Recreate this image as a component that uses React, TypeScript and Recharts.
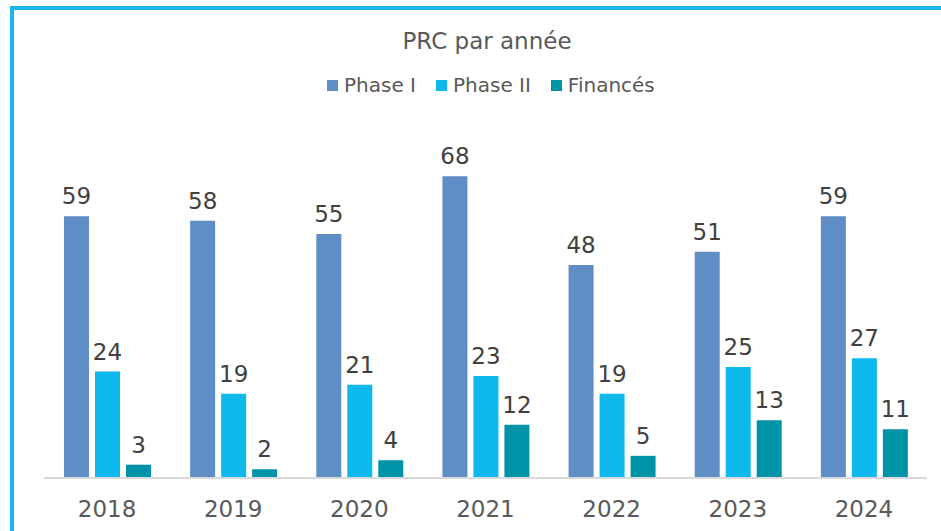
import React from "react";
import { Bar, BarChart, LabelList, XAxis, YAxis } from "recharts";

const years = ["2018", "2019", "2020", "2021", "2022", "2023", "2024"];
const phase1 = [59, 58, 55, 68, 48, 51, 59];
const phase2 = [24, 19, 21, 23, 19, 25, 27];
const finances = [3, 2, 4, 12, 5, 13, 11];

const series = [
  { key: "phase1", name: "Phase I", color: "#5F8DC6" },
  { key: "phase2", name: "Phase II", color: "#0CB8EC" },
  { key: "finances", name: "Financés", color: "#0093A7" },
];

const data = years.map((year, i) => ({
  year,
  phase1: phase1[i],
  phase2: phase2[i],
  finances: finances[i],
}));

const font = "'DejaVu Sans', Verdana, sans-serif";

const App: React.FC = () => {
  return (
    <div
      style={{
        position: "absolute",
        left: 0,
        top: 0,
        width: 941,
        height: 531,
        overflow: "hidden",
        background: "#fff",
        fontFamily: font,
      }}
    >
      {/* frame around the chart, right and bottom edges run off the picture */}
      <div
        style={{
          position: "absolute",
          left: 10,
          top: 6,
          width: 960,
          height: 560,
          border: "4px solid #1CB5EC",
          boxSizing: "border-box",
        }}
      />
      <div
        style={{
          position: "absolute",
          left: 0,
          width: 974,
          top: 27,
          textAlign: "center",
          fontSize: 23,
          color: "#595959",
          lineHeight: "28px",
        }}
      >
        PRC par année
      </div>
      <div
        style={{
          position: "absolute",
          left: 327,
          top: 73,
          display: "flex",
          alignItems: "center",
          fontSize: 20,
          color: "#595959",
          lineHeight: "24px",
        }}
      >
        {series.map((s) => (
          <span key={s.key} style={{ display: "flex", alignItems: "center", marginRight: 20 }}>
            <span style={{ width: 11, height: 11, background: s.color, marginRight: 6 }} />
            {s.name}
          </span>
        ))}
      </div>
      <BarChart
        width={941}
        height={531}
        data={data}
        margin={{ top: 123, right: 14, left: 44, bottom: 0 }}
        barSize={25}
        barGap={6}
        style={{ position: "absolute", left: 0, top: 0 }}
      >
        <XAxis
          dataKey="year"
          height={53}
          tickLine={false}
          axisLine={{ stroke: "#D9D9D9", strokeWidth: 2 }}
          tickMargin={17}
          tick={{ fontSize: 23, fill: "#595959", fontFamily: font }}
        />
        <YAxis hide domain={[0, 80]} />
        {series.map((s) => (
          <Bar key={s.key} dataKey={s.key} name={s.name} fill={s.color} isAnimationActive={false}>
            <LabelList
              dataKey={s.key}
              position="top"
              offset={12}
              style={{ fontSize: 23, fill: "#404040", fontFamily: font }}
            />
          </Bar>
        ))}
      </BarChart>
    </div>
  );
};

export default App;
